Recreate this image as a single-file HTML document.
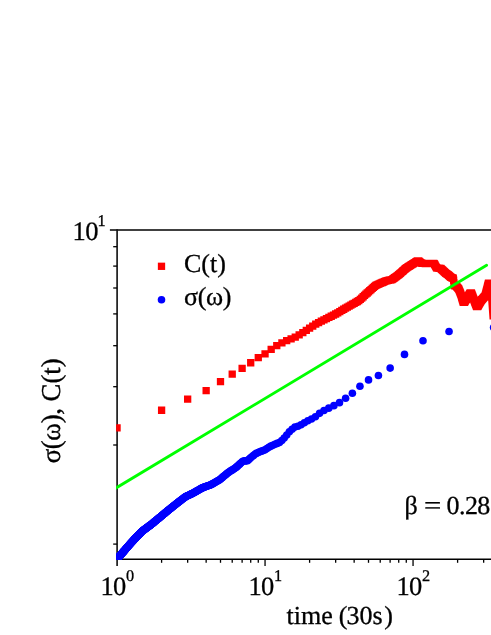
<!DOCTYPE html>
<html><head><meta charset="utf-8"><title>chart</title>
<style>
html,body{margin:0;padding:0;background:#fff;}
body{width:491px;height:635px;overflow:hidden;}
svg{display:block;will-change:transform;}
text{font-family:"Liberation Serif",serif;fill:#000;text-rendering:geometricPrecision;}
</style></head><body>
<svg width="491" height="635" viewBox="0 0 491 635">
<rect width="491" height="635" fill="#fff"/>
<defs><clipPath id="plot"><rect x="116.15" y="225" width="380" height="334.55"/></clipPath></defs>
<!-- axes -->
<line x1="109.9" y1="230" x2="491" y2="230" stroke="#000" stroke-width="1.5"/>
<line x1="117.1" y1="229.3" x2="117.1" y2="566.1" stroke="#141414" stroke-width="1.65"/>
<line x1="116.1" y1="559.2" x2="491" y2="559.2" stroke="#000" stroke-width="1.5"/>
<g stroke="#000" stroke-width="1.3"><line x1="161.60" y1="559.2" x2="161.60" y2="562.80"/><line x1="187.66" y1="559.2" x2="187.66" y2="562.80"/><line x1="206.15" y1="559.2" x2="206.15" y2="562.80"/><line x1="220.50" y1="559.2" x2="220.50" y2="562.80"/><line x1="232.22" y1="559.2" x2="232.22" y2="562.80"/><line x1="242.12" y1="559.2" x2="242.12" y2="562.80"/><line x1="250.71" y1="559.2" x2="250.71" y2="562.80"/><line x1="258.28" y1="559.2" x2="258.28" y2="562.80"/><line x1="265.05" y1="559.2" x2="265.05" y2="566.10"/><line x1="309.60" y1="559.2" x2="309.60" y2="562.80"/><line x1="335.66" y1="559.2" x2="335.66" y2="562.80"/><line x1="354.15" y1="559.2" x2="354.15" y2="562.80"/><line x1="368.50" y1="559.2" x2="368.50" y2="562.80"/><line x1="380.22" y1="559.2" x2="380.22" y2="562.80"/><line x1="390.12" y1="559.2" x2="390.12" y2="562.80"/><line x1="398.71" y1="559.2" x2="398.71" y2="562.80"/><line x1="406.28" y1="559.2" x2="406.28" y2="562.80"/><line x1="413.05" y1="559.2" x2="413.05" y2="566.10"/><line x1="457.60" y1="559.2" x2="457.60" y2="562.80"/><line x1="483.66" y1="559.2" x2="483.66" y2="562.80"/><line x1="113.20" y1="246.7" x2="117.1" y2="246.7"/><line x1="113.20" y1="266.1" x2="117.1" y2="266.1"/><line x1="113.20" y1="288" x2="117.1" y2="288"/><line x1="113.20" y1="313.9" x2="117.1" y2="313.9"/><line x1="113.20" y1="345.7" x2="117.1" y2="345.7"/><line x1="113.20" y1="386.7" x2="117.1" y2="386.7"/><line x1="113.20" y1="445" x2="117.1" y2="445"/><line x1="113.20" y1="544.1" x2="117.1" y2="544.1"/></g>
<g clip-path="url(#plot)">
<g fill="#0000ff"><circle cx="493.60" cy="327.50" r="3.8"/><circle cx="449.05" cy="331.50" r="3.8"/><circle cx="422.99" cy="340.76" r="3.8"/><circle cx="404.50" cy="354.40" r="3.8"/><circle cx="390.15" cy="368.09" r="3.8"/><circle cx="378.43" cy="375.57" r="3.8"/><circle cx="368.53" cy="379.90" r="3.8"/><circle cx="359.94" cy="386.23" r="3.8"/><circle cx="352.37" cy="393.20" r="3.8"/><circle cx="345.60" cy="398.30" r="3.8"/><circle cx="339.47" cy="402.67" r="3.8"/><circle cx="333.88" cy="405.65" r="3.8"/><circle cx="328.74" cy="408.13" r="3.8"/><circle cx="323.97" cy="410.56" r="3.8"/><circle cx="319.54" cy="413.36" r="3.8"/><circle cx="315.39" cy="416.79" r="3.8"/><circle cx="311.49" cy="418.96" r="3.8"/><circle cx="307.82" cy="420.72" r="3.8"/><circle cx="304.34" cy="422.77" r="3.8"/><circle cx="301.05" cy="424.77" r="3.8"/><circle cx="297.91" cy="426.19" r="3.8"/><circle cx="294.92" cy="427.10" r="3.8"/><circle cx="292.06" cy="429.32" r="3.8"/><circle cx="289.33" cy="431.77" r="3.8"/><circle cx="286.70" cy="435.09" r="3.8"/><circle cx="284.18" cy="438.10" r="3.8"/><circle cx="281.76" cy="440.48" r="3.8"/><circle cx="279.42" cy="442.50" r="3.8"/><circle cx="277.17" cy="443.42" r="3.8"/><circle cx="274.99" cy="444.31" r="3.8"/><circle cx="272.88" cy="445.25" r="3.8"/><circle cx="270.84" cy="446.17" r="3.8"/><circle cx="268.86" cy="447.31" r="3.8"/><circle cx="266.94" cy="448.56" r="3.8"/><circle cx="265.08" cy="449.75" r="3.8"/><circle cx="263.27" cy="450.45" r="3.8"/><circle cx="261.51" cy="451.13" r="3.8"/><circle cx="259.79" cy="451.83" r="3.8"/><circle cx="258.12" cy="452.58" r="3.8"/><circle cx="256.50" cy="453.31" r="3.8"/><circle cx="254.91" cy="454.21" r="3.8"/><circle cx="253.36" cy="455.50" r="3.8"/><circle cx="251.85" cy="456.76" r="3.8"/><circle cx="250.37" cy="458.02" r="3.8"/><circle cx="248.92" cy="459.42" r="3.8"/><circle cx="247.51" cy="460.79" r="3.8"/><circle cx="246.13" cy="460.86" r="3.8"/><circle cx="244.78" cy="460.92" r="3.8"/><circle cx="243.45" cy="460.98" r="3.8"/><circle cx="242.15" cy="461.81" r="3.8"/><circle cx="240.88" cy="463.02" r="3.8"/><circle cx="239.63" cy="464.17" r="3.8"/><circle cx="238.41" cy="465.28" r="3.8"/><circle cx="237.21" cy="466.38" r="3.8"/><circle cx="236.03" cy="467.42" r="3.8"/><circle cx="234.87" cy="468.18" r="3.8"/><circle cx="233.73" cy="468.94" r="3.8"/><circle cx="232.61" cy="469.68" r="3.8"/><circle cx="231.51" cy="470.41" r="3.8"/><circle cx="230.43" cy="471.12" r="3.8"/><circle cx="229.37" cy="471.83" r="3.8"/><circle cx="228.33" cy="472.52" r="3.8"/><circle cx="227.30" cy="473.30" r="3.8"/><circle cx="226.29" cy="474.15" r="3.8"/><circle cx="225.29" cy="474.98" r="3.8"/><circle cx="224.31" cy="475.80" r="3.8"/><circle cx="223.34" cy="476.61" r="3.8"/><circle cx="222.39" cy="477.40" r="3.8"/><circle cx="221.45" cy="478.19" r="3.8"/><circle cx="220.53" cy="478.96" r="3.8"/><circle cx="219.61" cy="479.72" r="3.8"/><circle cx="218.71" cy="480.29" r="3.8"/><circle cx="217.83" cy="480.80" r="3.8"/><circle cx="216.95" cy="481.29" r="3.8"/><circle cx="216.09" cy="481.79" r="3.8"/><circle cx="215.24" cy="482.27" r="3.8"/><circle cx="214.40" cy="482.75" r="3.8"/><circle cx="213.57" cy="483.22" r="3.8"/><circle cx="212.75" cy="483.69" r="3.8"/><circle cx="211.94" cy="484.15" r="3.8"/><circle cx="211.14" cy="484.60" r="3.8"/><circle cx="210.36" cy="484.96" r="3.8"/><circle cx="209.58" cy="485.24" r="3.8"/><circle cx="208.81" cy="485.52" r="3.8"/><circle cx="208.05" cy="485.79" r="3.8"/><circle cx="207.29" cy="486.06" r="3.8"/><circle cx="206.55" cy="486.33" r="3.8"/><circle cx="205.82" cy="486.60" r="3.8"/><circle cx="205.09" cy="486.86" r="3.8"/><circle cx="204.37" cy="487.12" r="3.8"/><circle cx="203.66" cy="487.37" r="3.8"/><circle cx="202.96" cy="487.63" r="3.8"/><circle cx="202.26" cy="487.88" r="3.8"/><circle cx="201.58" cy="488.26" r="3.8"/><circle cx="200.90" cy="488.65" r="3.8"/><circle cx="200.22" cy="489.04" r="3.8"/><circle cx="199.56" cy="489.42" r="3.8"/><circle cx="198.90" cy="489.80" r="3.8"/><circle cx="198.25" cy="490.18" r="3.8"/><circle cx="197.60" cy="490.55" r="3.8"/><circle cx="196.96" cy="490.92" r="3.8"/><circle cx="196.33" cy="491.29" r="3.8"/><circle cx="195.70" cy="491.65" r="3.8"/><circle cx="195.08" cy="492.01" r="3.8"/><circle cx="194.46" cy="492.36" r="3.8"/><circle cx="193.85" cy="492.71" r="3.8"/><circle cx="193.25" cy="493.02" r="3.8"/><circle cx="192.65" cy="493.31" r="3.8"/><circle cx="192.06" cy="493.60" r="3.8"/><circle cx="191.47" cy="493.89" r="3.8"/><circle cx="190.89" cy="494.17" r="3.8"/><circle cx="190.32" cy="494.45" r="3.8"/><circle cx="189.74" cy="494.73" r="3.8"/><circle cx="189.18" cy="495.01" r="3.8"/><circle cx="188.62" cy="495.28" r="3.8"/><circle cx="188.06" cy="495.55" r="3.8"/><circle cx="187.51" cy="495.82" r="3.8"/><circle cx="186.96" cy="496.09" r="3.8"/><circle cx="186.42" cy="496.36" r="3.8"/><circle cx="185.88" cy="496.62" r="3.8"/><circle cx="185.35" cy="496.88" r="3.8"/><circle cx="184.82" cy="497.22" r="3.8"/><circle cx="184.29" cy="497.63" r="3.8"/><circle cx="183.77" cy="498.03" r="3.8"/><circle cx="183.26" cy="498.43" r="3.8"/><circle cx="182.75" cy="498.83" r="3.8"/><circle cx="182.24" cy="499.22" r="3.8"/><circle cx="181.73" cy="499.61" r="3.8"/><circle cx="181.23" cy="500.00" r="3.8"/><circle cx="180.74" cy="500.39" r="3.8"/><circle cx="180.24" cy="500.77" r="3.8"/><circle cx="179.76" cy="501.15" r="3.8"/><circle cx="179.27" cy="501.53" r="3.8"/><circle cx="178.79" cy="501.90" r="3.8"/><circle cx="178.31" cy="502.27" r="3.8"/><circle cx="177.84" cy="502.64" r="3.8"/><circle cx="177.37" cy="503.01" r="3.8"/><circle cx="176.90" cy="503.37" r="3.8"/><circle cx="176.43" cy="503.73" r="3.8"/><circle cx="175.97" cy="504.10" r="3.8"/><circle cx="175.52" cy="504.47" r="3.8"/><circle cx="175.06" cy="504.83" r="3.8"/><circle cx="174.61" cy="505.20" r="3.8"/><circle cx="174.16" cy="505.56" r="3.8"/><circle cx="173.72" cy="505.91" r="3.8"/><circle cx="173.28" cy="506.27" r="3.8"/><circle cx="172.84" cy="506.62" r="3.8"/><circle cx="172.40" cy="506.97" r="3.8"/><circle cx="171.97" cy="507.32" r="3.8"/><circle cx="171.54" cy="507.66" r="3.8"/><circle cx="171.11" cy="508.00" r="3.8"/><circle cx="170.69" cy="508.34" r="3.8"/><circle cx="170.27" cy="508.68" r="3.8"/><circle cx="169.85" cy="509.02" r="3.8"/><circle cx="169.43" cy="509.35" r="3.8"/><circle cx="169.02" cy="509.68" r="3.8"/><circle cx="168.61" cy="510.01" r="3.8"/><circle cx="168.20" cy="510.34" r="3.8"/><circle cx="167.79" cy="510.67" r="3.8"/><circle cx="167.39" cy="511.01" r="3.8"/><circle cx="166.99" cy="511.34" r="3.8"/><circle cx="166.59" cy="511.68" r="3.8"/><circle cx="166.20" cy="512.01" r="3.8"/><circle cx="165.80" cy="512.34" r="3.8"/><circle cx="165.41" cy="512.66" r="3.8"/><circle cx="165.02" cy="512.99" r="3.8"/><circle cx="164.64" cy="513.31" r="3.8"/><circle cx="164.25" cy="513.63" r="3.8"/><circle cx="163.87" cy="513.95" r="3.8"/><circle cx="163.49" cy="514.26" r="3.8"/><circle cx="163.12" cy="514.58" r="3.8"/><circle cx="162.74" cy="514.89" r="3.8"/><circle cx="162.37" cy="515.20" r="3.8"/><circle cx="162.00" cy="515.51" r="3.8"/><circle cx="161.63" cy="515.82" r="3.8"/><circle cx="161.26" cy="516.13" r="3.8"/><circle cx="160.90" cy="516.43" r="3.8"/><circle cx="160.54" cy="516.73" r="3.8"/><circle cx="160.18" cy="517.03" r="3.8"/><circle cx="159.82" cy="517.33" r="3.8"/><circle cx="159.46" cy="517.63" r="3.8"/><circle cx="159.11" cy="517.92" r="3.8"/><circle cx="158.76" cy="518.21" r="3.8"/><circle cx="158.41" cy="518.50" r="3.8"/><circle cx="158.06" cy="518.79" r="3.8"/><circle cx="157.71" cy="519.08" r="3.8"/><circle cx="157.37" cy="519.36" r="3.8"/><circle cx="157.02" cy="519.64" r="3.8"/><circle cx="156.68" cy="519.93" r="3.8"/><circle cx="156.34" cy="520.21" r="3.8"/><circle cx="156.01" cy="520.48" r="3.8"/><circle cx="155.67" cy="520.76" r="3.8"/><circle cx="155.34" cy="521.04" r="3.8"/><circle cx="155.01" cy="521.31" r="3.8"/><circle cx="154.67" cy="521.58" r="3.8"/><circle cx="154.35" cy="521.85" r="3.8"/><circle cx="154.02" cy="522.13" r="3.8"/><circle cx="153.69" cy="522.39" r="3.8"/><circle cx="153.37" cy="522.66" r="3.8"/><circle cx="153.05" cy="522.93" r="3.8"/><circle cx="152.73" cy="523.19" r="3.8"/><circle cx="152.41" cy="523.46" r="3.8"/><circle cx="152.09" cy="523.72" r="3.8"/><circle cx="151.77" cy="523.98" r="3.8"/><circle cx="151.46" cy="524.24" r="3.8"/><circle cx="151.15" cy="524.50" r="3.8"/><circle cx="150.84" cy="524.75" r="3.8"/><circle cx="150.53" cy="524.98" r="3.8"/><circle cx="150.22" cy="525.21" r="3.8"/><circle cx="149.91" cy="525.43" r="3.8"/><circle cx="149.61" cy="525.66" r="3.8"/><circle cx="149.30" cy="525.88" r="3.8"/><circle cx="149.00" cy="526.11" r="3.8"/><circle cx="148.70" cy="526.33" r="3.8"/><circle cx="148.40" cy="526.55" r="3.8"/><circle cx="148.10" cy="526.77" r="3.8"/><circle cx="147.80" cy="526.99" r="3.8"/><circle cx="147.51" cy="527.21" r="3.8"/><circle cx="147.21" cy="527.43" r="3.8"/><circle cx="146.92" cy="527.65" r="3.8"/><circle cx="146.63" cy="527.86" r="3.8"/><circle cx="146.34" cy="528.08" r="3.8"/><circle cx="146.05" cy="528.29" r="3.8"/><circle cx="145.76" cy="528.51" r="3.8"/><circle cx="145.48" cy="528.72" r="3.8"/><circle cx="145.19" cy="528.93" r="3.8"/><circle cx="144.91" cy="529.14" r="3.8"/><circle cx="144.63" cy="529.35" r="3.8"/><circle cx="144.34" cy="529.56" r="3.8"/><circle cx="144.06" cy="529.77" r="3.8"/><circle cx="143.79" cy="529.97" r="3.8"/><circle cx="143.51" cy="530.18" r="3.8"/><circle cx="143.23" cy="530.38" r="3.8"/><circle cx="142.96" cy="530.59" r="3.8"/><circle cx="142.68" cy="530.79" r="3.8"/><circle cx="142.41" cy="530.99" r="3.8"/><circle cx="142.14" cy="531.27" r="3.8"/><circle cx="141.87" cy="531.55" r="3.8"/><circle cx="141.60" cy="531.82" r="3.8"/><circle cx="141.33" cy="532.10" r="3.8"/><circle cx="141.06" cy="532.37" r="3.8"/><circle cx="140.80" cy="532.64" r="3.8"/><circle cx="140.53" cy="532.92" r="3.8"/><circle cx="140.27" cy="533.19" r="3.8"/><circle cx="140.00" cy="533.46" r="3.8"/><circle cx="139.74" cy="533.72" r="3.8"/><circle cx="139.48" cy="533.99" r="3.8"/><circle cx="139.22" cy="534.26" r="3.8"/><circle cx="138.96" cy="534.52" r="3.8"/><circle cx="138.70" cy="534.79" r="3.8"/><circle cx="138.45" cy="535.05" r="3.8"/><circle cx="138.19" cy="535.31" r="3.8"/><circle cx="137.94" cy="535.57" r="3.8"/><circle cx="137.68" cy="535.83" r="3.8"/><circle cx="137.43" cy="536.09" r="3.8"/><circle cx="137.18" cy="536.35" r="3.8"/><circle cx="136.93" cy="536.61" r="3.8"/><circle cx="136.68" cy="536.86" r="3.8"/><circle cx="136.43" cy="537.12" r="3.8"/><circle cx="136.18" cy="537.37" r="3.8"/><circle cx="135.94" cy="537.62" r="3.8"/><circle cx="135.69" cy="537.88" r="3.8"/><circle cx="135.45" cy="538.13" r="3.8"/><circle cx="135.20" cy="538.38" r="3.8"/><circle cx="134.96" cy="538.63" r="3.8"/><circle cx="134.72" cy="538.87" r="3.8"/><circle cx="134.48" cy="539.12" r="3.8"/><circle cx="134.24" cy="539.38" r="3.8"/><circle cx="134.00" cy="539.65" r="3.8"/><circle cx="133.76" cy="539.92" r="3.8"/><circle cx="133.52" cy="540.19" r="3.8"/><circle cx="133.28" cy="540.45" r="3.8"/><circle cx="133.05" cy="540.72" r="3.8"/><circle cx="132.81" cy="540.98" r="3.8"/><circle cx="132.58" cy="541.25" r="3.8"/><circle cx="132.35" cy="541.51" r="3.8"/><circle cx="132.11" cy="541.77" r="3.8"/><circle cx="131.88" cy="542.03" r="3.8"/><circle cx="131.65" cy="542.29" r="3.8"/><circle cx="131.42" cy="542.55" r="3.8"/><circle cx="131.19" cy="542.80" r="3.8"/><circle cx="130.96" cy="543.06" r="3.8"/><circle cx="130.74" cy="543.32" r="3.8"/><circle cx="130.51" cy="543.57" r="3.8"/><circle cx="130.28" cy="543.83" r="3.8"/><circle cx="130.06" cy="544.08" r="3.8"/><circle cx="129.83" cy="544.33" r="3.8"/><circle cx="129.61" cy="544.58" r="3.8"/><circle cx="129.39" cy="544.83" r="3.8"/><circle cx="129.17" cy="545.08" r="3.8"/><circle cx="128.94" cy="545.33" r="3.8"/><circle cx="128.72" cy="545.58" r="3.8"/><circle cx="128.50" cy="545.82" r="3.8"/><circle cx="128.28" cy="546.07" r="3.8"/><circle cx="128.07" cy="546.32" r="3.8"/><circle cx="127.85" cy="546.56" r="3.8"/><circle cx="127.63" cy="546.80" r="3.8"/><circle cx="127.42" cy="547.05" r="3.8"/><circle cx="127.20" cy="547.29" r="3.8"/><circle cx="126.99" cy="547.53" r="3.8"/><circle cx="126.77" cy="547.77" r="3.8"/><circle cx="126.56" cy="548.01" r="3.8"/><circle cx="126.35" cy="548.25" r="3.8"/><circle cx="126.13" cy="548.49" r="3.8"/><circle cx="125.92" cy="548.74" r="3.8"/><circle cx="125.71" cy="548.99" r="3.8"/><circle cx="125.50" cy="549.24" r="3.8"/><circle cx="125.29" cy="549.48" r="3.8"/><circle cx="125.09" cy="549.73" r="3.8"/><circle cx="124.88" cy="549.97" r="3.8"/><circle cx="124.67" cy="550.21" r="3.8"/><circle cx="124.47" cy="550.46" r="3.8"/><circle cx="124.26" cy="550.70" r="3.8"/><circle cx="124.05" cy="550.94" r="3.8"/><circle cx="123.85" cy="551.18" r="3.8"/><circle cx="123.65" cy="551.42" r="3.8"/><circle cx="123.44" cy="551.66" r="3.8"/><circle cx="123.24" cy="551.89" r="3.8"/><circle cx="123.04" cy="552.13" r="3.8"/><circle cx="122.84" cy="552.37" r="3.8"/><circle cx="122.64" cy="552.60" r="3.8"/><circle cx="122.44" cy="552.84" r="3.8"/><circle cx="122.24" cy="553.07" r="3.8"/><circle cx="122.04" cy="553.30" r="3.8"/><circle cx="121.84" cy="553.54" r="3.8"/><circle cx="121.64" cy="553.77" r="3.8"/><circle cx="121.45" cy="554.00" r="3.8"/><circle cx="121.25" cy="554.23" r="3.8"/><circle cx="121.06" cy="554.46" r="3.8"/><circle cx="120.86" cy="554.69" r="3.8"/><circle cx="120.67" cy="554.92" r="3.8"/><circle cx="120.47" cy="555.15" r="3.8"/><circle cx="120.28" cy="555.37" r="3.8"/><circle cx="120.09" cy="555.60" r="3.8"/><circle cx="119.89" cy="555.83" r="3.8"/><circle cx="119.70" cy="556.07" r="3.8"/><circle cx="119.51" cy="556.31" r="3.8"/><circle cx="119.32" cy="556.55" r="3.8"/><circle cx="119.13" cy="556.79" r="3.8"/><circle cx="118.94" cy="557.03" r="3.8"/><circle cx="118.75" cy="557.27" r="3.8"/><circle cx="118.56" cy="557.50" r="3.8"/><circle cx="118.38" cy="557.74" r="3.8"/><circle cx="118.19" cy="557.97" r="3.8"/><circle cx="118.00" cy="558.21" r="3.8"/><circle cx="117.82" cy="558.44" r="3.8"/><circle cx="117.63" cy="558.68" r="3.8"/><circle cx="117.45" cy="558.91" r="3.8"/><circle cx="117.26" cy="559.14" r="3.8"/><circle cx="117.08" cy="559.37" r="3.8"/></g>
<path fill="#ff0000" d="M113.40 424.23h7.3v7.3h-7.3zM157.95 406.61h7.3v7.3h-7.3zM184.01 395.48h7.3v7.3h-7.3zM202.50 387.02h7.3v7.3h-7.3zM216.85 377.95h7.3v7.3h-7.3zM228.57 370.44h7.3v7.3h-7.3zM238.47 364.65h7.3v7.3h-7.3zM247.06 359.11h7.3v7.3h-7.3zM254.63 353.97h7.3v7.3h-7.3zM261.40 350.13h7.3v7.3h-7.3zM267.53 345.64h7.3v7.3h-7.3zM273.12 341.97h7.3v7.3h-7.3zM278.26 339.15h7.3v7.3h-7.3zM283.03 337.02h7.3v7.3h-7.3zM287.46 335.22h7.3v7.3h-7.3zM291.61 333.53h7.3v7.3h-7.3zM295.51 331.22h7.3v7.3h-7.3zM299.18 328.95h7.3v7.3h-7.3zM302.66 326.78h7.3v7.3h-7.3zM305.95 324.55h7.3v7.3h-7.3zM309.09 322.42h7.3v7.3h-7.3zM312.08 320.40h7.3v7.3h-7.3zM314.94 318.91h7.3v7.3h-7.3zM317.67 317.54h7.3v7.3h-7.3zM320.30 316.23h7.3v7.3h-7.3zM322.82 314.97h7.3v7.3h-7.3zM325.24 313.75h7.3v7.3h-7.3zM327.58 312.59h7.3v7.3h-7.3zM329.83 311.46h7.3v7.3h-7.3zM332.01 310.37h7.3v7.3h-7.3zM334.12 309.18h7.3v7.3h-7.3zM336.16 307.95h7.3v7.3h-7.3zM338.14 306.76h7.3v7.3h-7.3zM340.06 305.60h7.3v7.3h-7.3zM341.92 304.47h7.3v7.3h-7.3zM343.73 303.41h7.3v7.3h-7.3zM345.49 302.43h7.3v7.3h-7.3zM347.21 301.47h7.3v7.3h-7.3zM348.88 300.54h7.3v7.3h-7.3zM350.50 299.63h7.3v7.3h-7.3zM352.09 298.73h7.3v7.3h-7.3zM353.64 297.83h7.3v7.3h-7.3zM355.15 296.96h7.3v7.3h-7.3zM356.63 295.81h7.3v7.3h-7.3zM358.08 294.44h7.3v7.3h-7.3zM359.49 293.10h7.3v7.3h-7.3zM360.87 291.78h7.3v7.3h-7.3zM362.22 290.52h7.3v7.3h-7.3zM363.55 289.33h7.3v7.3h-7.3zM364.85 288.16h7.3v7.3h-7.3zM366.12 287.01h7.3v7.3h-7.3zM367.37 285.89h7.3v7.3h-7.3zM368.59 284.78h7.3v7.3h-7.3zM369.79 283.70h7.3v7.3h-7.3zM370.97 282.64h7.3v7.3h-7.3zM372.13 281.73h7.3v7.3h-7.3zM373.27 281.22h7.3v7.3h-7.3zM374.39 280.73h7.3v7.3h-7.3zM375.49 280.25h7.3v7.3h-7.3zM376.57 279.77h7.3v7.3h-7.3zM377.63 279.30h7.3v7.3h-7.3zM378.67 278.84h7.3v7.3h-7.3zM379.70 278.39h7.3v7.3h-7.3zM380.71 277.94h7.3v7.3h-7.3zM381.71 277.50h7.3v7.3h-7.3zM382.69 277.21h7.3v7.3h-7.3zM383.66 276.99h7.3v7.3h-7.3zM384.61 276.78h7.3v7.3h-7.3zM385.55 276.57h7.3v7.3h-7.3zM386.47 276.37h7.3v7.3h-7.3zM387.39 276.16h7.3v7.3h-7.3zM388.29 275.96h7.3v7.3h-7.3zM389.17 275.36h7.3v7.3h-7.3zM390.05 274.73h7.3v7.3h-7.3zM390.91 274.11h7.3v7.3h-7.3zM391.76 273.50h7.3v7.3h-7.3zM392.60 272.89h7.3v7.3h-7.3zM393.43 272.30h7.3v7.3h-7.3zM394.25 271.71h7.3v7.3h-7.3zM395.06 271.07h7.3v7.3h-7.3zM395.86 270.36h7.3v7.3h-7.3zM396.64 269.65h7.3v7.3h-7.3zM397.42 268.95h7.3v7.3h-7.3zM398.19 268.26h7.3v7.3h-7.3zM398.95 267.58h7.3v7.3h-7.3zM399.71 266.91h7.3v7.3h-7.3zM400.45 266.24h7.3v7.3h-7.3zM401.18 265.58h7.3v7.3h-7.3zM401.91 264.93h7.3v7.3h-7.3zM402.63 264.34h7.3v7.3h-7.3zM403.34 263.89h7.3v7.3h-7.3zM404.04 263.45h7.3v7.3h-7.3zM404.74 263.01h7.3v7.3h-7.3zM405.42 262.58h7.3v7.3h-7.3zM406.10 262.15h7.3v7.3h-7.3zM406.78 261.73h7.3v7.3h-7.3zM407.44 261.31h7.3v7.3h-7.3zM408.10 260.89h7.3v7.3h-7.3zM408.75 260.48h7.3v7.3h-7.3zM409.40 260.08h7.3v7.3h-7.3zM410.04 259.67h7.3v7.3h-7.3zM410.67 259.28h7.3v7.3h-7.3zM411.30 258.88h7.3v7.3h-7.3zM411.92 258.49h7.3v7.3h-7.3zM412.54 258.10h7.3v7.3h-7.3zM413.15 257.72h7.3v7.3h-7.3zM413.75 257.34h7.3v7.3h-7.3zM414.35 257.15h7.3v7.3h-7.3zM414.94 257.36h7.3v7.3h-7.3zM415.53 257.79h7.3v7.3h-7.3zM416.11 258.21h7.3v7.3h-7.3zM416.68 258.63h7.3v7.3h-7.3zM417.26 259.04h7.3v7.3h-7.3zM417.82 259.46h7.3v7.3h-7.3zM418.38 259.59h7.3v7.3h-7.3zM418.94 259.63h7.3v7.3h-7.3zM419.49 259.68h7.3v7.3h-7.3zM420.04 259.72h7.3v7.3h-7.3zM420.58 259.76h7.3v7.3h-7.3zM421.12 259.81h7.3v7.3h-7.3zM421.65 259.85h7.3v7.3h-7.3zM422.18 259.90h7.3v7.3h-7.3zM422.71 259.94h7.3v7.3h-7.3zM423.23 259.94h7.3v7.3h-7.3zM423.74 259.92h7.3v7.3h-7.3zM424.25 259.90h7.3v7.3h-7.3zM424.76 259.89h7.3v7.3h-7.3zM425.27 259.87h7.3v7.3h-7.3zM425.77 259.85h7.3v7.3h-7.3zM426.26 259.84h7.3v7.3h-7.3zM426.76 259.82h7.3v7.3h-7.3zM427.24 259.81h7.3v7.3h-7.3zM427.73 259.79h7.3v7.3h-7.3zM428.21 259.77h7.3v7.3h-7.3zM428.69 259.76h7.3v7.3h-7.3zM429.16 259.75h7.3v7.3h-7.3zM429.63 259.75h7.3v7.3h-7.3zM430.10 259.75h7.3v7.3h-7.3zM430.57 259.96h7.3v7.3h-7.3zM431.03 260.77h7.3v7.3h-7.3zM431.48 261.58h7.3v7.3h-7.3zM431.94 262.38h7.3v7.3h-7.3zM432.39 263.18h7.3v7.3h-7.3zM432.84 263.97h7.3v7.3h-7.3zM433.28 264.37h7.3v7.3h-7.3zM433.72 264.42h7.3v7.3h-7.3zM434.16 264.46h7.3v7.3h-7.3zM434.60 264.50h7.3v7.3h-7.3zM435.03 264.55h7.3v7.3h-7.3zM435.46 264.59h7.3v7.3h-7.3zM435.89 264.63h7.3v7.3h-7.3zM436.31 264.68h7.3v7.3h-7.3zM436.73 264.72h7.3v7.3h-7.3zM437.15 264.85h7.3v7.3h-7.3zM437.57 265.24h7.3v7.3h-7.3zM437.98 265.63h7.3v7.3h-7.3zM438.39 266.02h7.3v7.3h-7.3zM438.80 266.40h7.3v7.3h-7.3zM439.21 266.79h7.3v7.3h-7.3zM439.61 267.17h7.3v7.3h-7.3zM440.01 267.55h7.3v7.3h-7.3zM440.41 267.92h7.3v7.3h-7.3zM440.80 268.30h7.3v7.3h-7.3zM441.20 268.67h7.3v7.3h-7.3zM441.59 269.04h7.3v7.3h-7.3zM441.98 269.40h7.3v7.3h-7.3zM442.36 269.77h7.3v7.3h-7.3zM442.75 270.04h7.3v7.3h-7.3zM443.13 270.29h7.3v7.3h-7.3zM443.51 270.54h7.3v7.3h-7.3zM443.88 270.78h7.3v7.3h-7.3zM444.26 271.03h7.3v7.3h-7.3zM444.63 271.27h7.3v7.3h-7.3zM445.00 271.58h7.3v7.3h-7.3zM445.37 271.92h7.3v7.3h-7.3zM445.74 272.26h7.3v7.3h-7.3zM446.10 272.60h7.3v7.3h-7.3zM446.46 272.93h7.3v7.3h-7.3zM446.82 273.26h7.3v7.3h-7.3zM447.18 273.59h7.3v7.3h-7.3zM447.54 273.82h7.3v7.3h-7.3zM447.89 273.95h7.3v7.3h-7.3zM448.24 274.08h7.3v7.3h-7.3zM448.59 274.22h7.3v7.3h-7.3zM448.94 274.35h7.3v7.3h-7.3zM449.29 274.48h7.3v7.3h-7.3zM449.63 274.61h7.3v7.3h-7.3zM449.98 276.48h7.3v7.3h-7.3zM450.32 279.24h7.3v7.3h-7.3zM450.66 281.95h7.3v7.3h-7.3zM450.99 282.03h7.3v7.3h-7.3zM451.33 282.10h7.3v7.3h-7.3zM451.66 282.17h7.3v7.3h-7.3zM451.99 282.25h7.3v7.3h-7.3zM452.33 282.32h7.3v7.3h-7.3zM452.65 282.58h7.3v7.3h-7.3zM452.98 282.94h7.3v7.3h-7.3zM453.31 283.31h7.3v7.3h-7.3zM453.63 283.67h7.3v7.3h-7.3zM453.95 284.03h7.3v7.3h-7.3zM454.27 284.38h7.3v7.3h-7.3zM454.59 284.74h7.3v7.3h-7.3zM454.91 285.09h7.3v7.3h-7.3zM455.23 285.69h7.3v7.3h-7.3zM455.54 286.47h7.3v7.3h-7.3zM455.85 287.26h7.3v7.3h-7.3zM456.16 288.03h7.3v7.3h-7.3zM456.47 288.81h7.3v7.3h-7.3zM456.78 289.58h7.3v7.3h-7.3zM457.09 290.35h7.3v7.3h-7.3zM457.39 291.24h7.3v7.3h-7.3zM457.70 292.29h7.3v7.3h-7.3zM458.00 293.33h7.3v7.3h-7.3zM458.30 294.36h7.3v7.3h-7.3zM458.60 295.39h7.3v7.3h-7.3zM458.90 296.41h7.3v7.3h-7.3zM459.20 297.43h7.3v7.3h-7.3zM459.49 298.45h7.3v7.3h-7.3zM459.79 298.65h7.3v7.3h-7.3zM460.08 298.65h7.3v7.3h-7.3zM460.37 298.65h7.3v7.3h-7.3zM460.66 298.65h7.3v7.3h-7.3zM460.95 298.33h7.3v7.3h-7.3zM461.24 297.87h7.3v7.3h-7.3zM461.52 297.41h7.3v7.3h-7.3zM461.81 296.95h7.3v7.3h-7.3zM462.09 296.49h7.3v7.3h-7.3zM462.37 296.03h7.3v7.3h-7.3zM462.66 295.58h7.3v7.3h-7.3zM462.94 295.13h7.3v7.3h-7.3zM463.21 294.68h7.3v7.3h-7.3zM463.49 294.23h7.3v7.3h-7.3zM463.77 293.79h7.3v7.3h-7.3zM464.04 293.35h7.3v7.3h-7.3zM464.32 292.90h7.3v7.3h-7.3zM464.59 292.47h7.3v7.3h-7.3zM464.86 292.03h7.3v7.3h-7.3zM465.13 291.59h7.3v7.3h-7.3zM465.40 291.16h7.3v7.3h-7.3zM465.67 290.73h7.3v7.3h-7.3zM465.94 290.30h7.3v7.3h-7.3zM466.20 289.87h7.3v7.3h-7.3zM466.47 289.44h7.3v7.3h-7.3zM466.73 289.15h7.3v7.3h-7.3zM467.00 289.15h7.3v7.3h-7.3zM467.26 289.15h7.3v7.3h-7.3zM467.52 289.15h7.3v7.3h-7.3zM467.78 289.49h7.3v7.3h-7.3zM468.04 290.17h7.3v7.3h-7.3zM468.30 290.84h7.3v7.3h-7.3zM468.55 291.51h7.3v7.3h-7.3zM468.81 292.19h7.3v7.3h-7.3zM469.06 292.85h7.3v7.3h-7.3zM469.32 293.52h7.3v7.3h-7.3zM469.57 294.18h7.3v7.3h-7.3zM469.82 294.84h7.3v7.3h-7.3zM470.07 295.50h7.3v7.3h-7.3zM470.32 296.15h7.3v7.3h-7.3zM470.57 296.80h7.3v7.3h-7.3zM470.82 297.45h7.3v7.3h-7.3zM471.06 298.10h7.3v7.3h-7.3zM471.31 298.75h7.3v7.3h-7.3zM471.55 299.39h7.3v7.3h-7.3zM471.80 300.03h7.3v7.3h-7.3zM472.04 300.66h7.3v7.3h-7.3zM472.28 301.30h7.3v7.3h-7.3zM472.52 301.93h7.3v7.3h-7.3zM472.76 302.56h7.3v7.3h-7.3zM473.00 303.05h7.3v7.3h-7.3zM473.24 303.05h7.3v7.3h-7.3zM473.48 303.05h7.3v7.3h-7.3zM473.72 303.05h7.3v7.3h-7.3zM473.95 303.05h7.3v7.3h-7.3zM474.19 302.64h7.3v7.3h-7.3zM474.42 302.23h7.3v7.3h-7.3zM474.65 301.83h7.3v7.3h-7.3zM474.89 301.42h7.3v7.3h-7.3zM475.12 301.02h7.3v7.3h-7.3zM475.35 300.62h7.3v7.3h-7.3zM475.58 300.22h7.3v7.3h-7.3zM475.81 299.82h7.3v7.3h-7.3zM476.04 299.43h7.3v7.3h-7.3zM476.26 299.03h7.3v7.3h-7.3zM476.49 298.64h7.3v7.3h-7.3zM476.72 298.24h7.3v7.3h-7.3zM476.94 297.85h7.3v7.3h-7.3zM477.17 297.46h7.3v7.3h-7.3zM477.39 297.08h7.3v7.3h-7.3zM477.61 296.69h7.3v7.3h-7.3zM477.83 296.36h7.3v7.3h-7.3zM478.06 296.12h7.3v7.3h-7.3zM478.28 295.88h7.3v7.3h-7.3zM478.50 295.64h7.3v7.3h-7.3zM478.72 295.41h7.3v7.3h-7.3zM478.93 295.17h7.3v7.3h-7.3zM479.15 294.94h7.3v7.3h-7.3zM479.37 294.70h7.3v7.3h-7.3zM479.58 294.47h7.3v7.3h-7.3zM479.80 294.23h7.3v7.3h-7.3zM480.01 294.00h7.3v7.3h-7.3zM480.23 293.77h7.3v7.3h-7.3zM480.44 293.54h7.3v7.3h-7.3zM480.65 293.31h7.3v7.3h-7.3zM480.87 293.08h7.3v7.3h-7.3zM481.08 292.85h7.3v7.3h-7.3zM481.29 292.63h7.3v7.3h-7.3zM481.50 292.27h7.3v7.3h-7.3zM481.71 291.47h7.3v7.3h-7.3zM481.91 290.68h7.3v7.3h-7.3zM482.12 289.88h7.3v7.3h-7.3zM482.33 289.09h7.3v7.3h-7.3zM482.53 288.30h7.3v7.3h-7.3zM482.74 287.52h7.3v7.3h-7.3zM482.95 286.73h7.3v7.3h-7.3zM483.15 285.95h7.3v7.3h-7.3zM483.35 285.17h7.3v7.3h-7.3zM483.56 284.39h7.3v7.3h-7.3zM483.76 283.62h7.3v7.3h-7.3zM483.96 282.85h7.3v7.3h-7.3zM484.16 282.08h7.3v7.3h-7.3zM484.36 281.31h7.3v7.3h-7.3zM484.56 280.55h7.3v7.3h-7.3zM484.76 279.79h7.3v7.3h-7.3zM484.96 279.45h7.3v7.3h-7.3zM485.16 279.45h7.3v7.3h-7.3zM485.36 279.45h7.3v7.3h-7.3zM485.55 279.45h7.3v7.3h-7.3zM485.75 279.45h7.3v7.3h-7.3zM485.94 279.45h7.3v7.3h-7.3zM486.14 279.45h7.3v7.3h-7.3zM486.33 279.45h7.3v7.3h-7.3zM486.53 279.45h7.3v7.3h-7.3zM486.72 279.45h7.3v7.3h-7.3zM486.91 279.45h7.3v7.3h-7.3zM487.11 279.45h7.3v7.3h-7.3zM487.30 279.45h7.3v7.3h-7.3zM487.49 279.45h7.3v7.3h-7.3zM487.68 279.45h7.3v7.3h-7.3zM487.87 280.32h7.3v7.3h-7.3zM488.06 288.78h7.3v7.3h-7.3zM488.25 294.20h7.3v7.3h-7.3zM488.44 296.81h7.3v7.3h-7.3zM488.62 299.41h7.3v7.3h-7.3zM488.81 302.00h7.3v7.3h-7.3zM489.00 304.59h7.3v7.3h-7.3zM489.18 307.17h7.3v7.3h-7.3zM489.37 309.74h7.3v7.3h-7.3zM489.55 312.25h7.3v7.3h-7.3zM489.74 312.25h7.3v7.3h-7.3zM489.92 312.26h7.3v7.3h-7.3zM490.11 312.26h7.3v7.3h-7.3zM490.29 312.26h7.3v7.3h-7.3zM490.47 312.26h7.3v7.3h-7.3zM490.65 312.27h7.3v7.3h-7.3zM490.83 312.27h7.3v7.3h-7.3zM491.01 312.27h7.3v7.3h-7.3zM491.19 312.27h7.3v7.3h-7.3zM491.37 312.28h7.3v7.3h-7.3zM491.55 312.28h7.3v7.3h-7.3zM491.73 312.28h7.3v7.3h-7.3zM491.91 312.28h7.3v7.3h-7.3zM492.09 312.29h7.3v7.3h-7.3zM492.27 312.29h7.3v7.3h-7.3zM492.44 312.29h7.3v7.3h-7.3zM492.62 312.30h7.3v7.3h-7.3zM492.80 312.30h7.3v7.3h-7.3zM492.97 312.30h7.3v7.3h-7.3zM493.15 312.30h7.3v7.3h-7.3zM493.32 312.31h7.3v7.3h-7.3zM488.15 279.5L495 279.5L495 319.6L489.55 319.6L488.15 300.2Z"/>
<line x1="115" y1="488.6" x2="486.6" y2="265.3" stroke="#00ff00" stroke-width="2.8" stroke-linecap="round"/>
</g>
<!-- legend -->
<rect x="157.85" y="262.65" width="7.3" height="7.3" fill="#ff0000"/>
<circle cx="161.5" cy="299.8" r="3.8" fill="#0000ff"/>
<g stroke="#000" stroke-width="0.3">
<text id="l1" x="184" y="271.7" font-size="26">C(t)</text>
<text id="l2" x="184" y="304.9" font-size="26" letter-spacing="-0.35">σ(ω)</text>
<text id="beta" y="514.3" font-size="26"><tspan x="404.5">β</tspan><tspan x="446.6" letter-spacing="-0.6">0.28</tspan></text>
<text id="eq" transform="translate(424.1,514.3) scale(1.18,1)" font-size="26">=</text>
<text id="xl" x="286.5" y="624.4" font-size="26">time<tspan dx="-0.5"> </tspan>(<tspan dx="-1">3</tspan>0s<tspan dx="1.8">)</tspan></text>
<text id="yl" transform="translate(60.2,463.3) rotate(-90) scale(1.027,1.05)" font-size="26"><tspan letter-spacing="-0.3">σ(ω)</tspan>, C(t)</text>
<!-- tick labels -->
<text id="y1" x="72.6" y="240.3" font-size="26.5" letter-spacing="-0.7">10</text>
<text x="97.6" y="225.8" font-size="16.3">1</text>
<text id="x0" x="100.5" y="595.2" font-size="26.5" letter-spacing="-0.7">10</text>
<text x="126.0" y="580.7" font-size="16.3">0</text>
<text id="x1" x="248.5" y="595.2" font-size="26.5" letter-spacing="-0.7">10</text>
<text x="274.0" y="580.7" font-size="16.3">1</text>
<text id="x2" x="396.5" y="595.2" font-size="26.5" letter-spacing="-0.7">10</text>
<text x="422.0" y="580.7" font-size="16.3">2</text>
</g>
</svg>
</body></html>
